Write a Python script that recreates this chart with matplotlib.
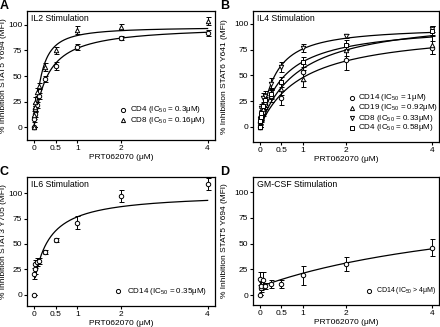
import numpy as np
import matplotlib
matplotlib.use("Agg")
import matplotlib.pyplot as plt

plt.rcParams['font.family'] = ['Liberation Sans', 'DejaVu Sans']
plt.rcParams['mathtext.fontset'] = 'custom'
plt.rcParams['mathtext.rm'] = 'Liberation Sans'
plt.rcParams['mathtext.it'] = 'Liberation Sans'

conc = [0, 0.008, 0.016, 0.031, 0.0625, 0.125, 0.25, 0.5, 1, 2, 4]
xticks = [0, 0.5, 1, 2, 4]
xtick_labels = ["0", "0.5", "1", "2", "4"]
yticks = [0, 25, 50, 75, 100]

# Panel A: IL2
a_cd4 = [0, 8, 13, 18, 22, 30, 47, 60, 78, 87, 92]
a_cd4_err = [0, 3, 3, 3, 3, 3, 3, 4, 3, 2, 3]
a_cd8 = [0, 12, 20, 25, 34, 40, 59, 75, 95, 98, 104]
a_cd8_err = [0, 4, 4, 4, 4, 3, 4, 3, 4, 3, 4]
a_fit = {"CD4": (0, 99, 0.30, 1.05), "CD8": (0, 98, 0.16, 1.3)}

# Panel B: IL4
b_cd14 = [0, 5, 8, 11, 15, 22, 30, 28, 53, 65, 77]
b_cd14_err = [0, 3, 3, 4, 4, 5, 6, 7, 8, 10, 6]
b_cd19 = [0, 6, 9, 12, 17, 24, 33, 37, 47, 75, 80]
b_cd19_err = [0, 3, 3, 4, 4, 5, 5, 6, 8, 6, 9]
b_cd8 = [0, 8, 12, 18, 28, 30, 42, 58, 77, 88, 95]
b_cd8_err = [0, 3, 3, 4, 5, 5, 6, 5, 4, 2, 3]
b_cd4 = [0, 6, 10, 14, 20, 26, 32, 44, 63, 80, 93]
b_cd4_err = [0, 3, 3, 4, 4, 5, 5, 5, 5, 4, 5]
b_fit = {"CD14": (0, 96, 1.0, 1.0), "CD19": (0, 109, 0.92, 1.0),
         "CD8": (0, 97, 0.33, 1.15), "CD4": (0, 100, 0.58, 1.0)}

# Panel C: IL6
c_cd14 = [0, 21, 25, 30, 32, 33, 42, 54, 71, 97, 109]
c_cd14_err = [0, 5, 4, 4, 4, 3, 2, 2, 6, 6, 6]
c_fit = (10, 100, 0.35, 1.0)

# Panel D: GM-CSF
d_cd14 = [0, 16, 7, 9, 15, 9, 11, 11, 19, 30, 46]
d_cd14_err = [0, 6, 4, 4, 7, 3, 4, 4, 9, 7, 8]
d_fit = (8, 100, 6.0, 1.0)


def hill(x, p):
    bottom, top, ic, h = p
    x = np.asarray(x, dtype=float)
    return bottom + (top - bottom) * x ** h / (ic ** h + x ** h)


W, H = 440, 327
fig = plt.figure(figsize=(4.4, 3.27), dpi=100)

positions = {
    "A": [27 / W, 1 - 140 / H, 188 / W, 129 / H],
    "B": [253 / W, 1 - 142 / H, 186 / W, 131 / H],
    "C": [27 / W, 1 - 306 / H, 188 / W, 129 / H],
    "D": [253 / W, 1 - 305 / H, 186 / W, 128 / H],
}
ylims = {"A": (-12.7, 113.7), "B": (-14.6, 112.6), "C": (-10.8, 115.7), "D": (-9.7, 114.6)}
titles = {"A": "IL2 Stimulation", "B": "IL4 Stimulation",
          "C": "IL6 Stimulation", "D": "GM-CSF Stimulation"}
ylabels = {"A": "% Inhibition STAT5 Y694 (MFI)", "B": "% Inhibition STAT6 Y641 (MFI)",
           "C": "% Inhibition STAT3 Y705 (MFI)", "D": "% Inhibition STAT5 Y694 (MFI)"}
ylabel_x = {"A": -0.108, "B": -0.134, "C": -0.108, "D": -0.134}
letter_pos = {"A": (0 / W, 1 - 0 / H), "B": (220 / W, 1 - 0 / H),
              "C": (0 / W, 1 - 166 / H), "D": (220 / W, 1 - 166 / H)}

fs = 6
xs = np.linspace(0, 4, 400)


def setup(ax, key):
    ax.set_xlim(-0.16, 4.17)
    ax.set_ylim(*ylims[key])
    ax.set_xticks(xticks)
    ax.set_xticklabels(xtick_labels)
    ax.set_yticks(yticks)
    ax.tick_params(labelsize=fs, length=2, width=0.8, pad=1.5)
    for s in ax.spines.values():
        s.set_linewidth(0.9)
    ax.set_xlabel("PRT062070 (μM)", fontsize=fs, labelpad=1.5)
    ax.set_ylabel(ylabels[key], fontsize=fs)
    ax.yaxis.set_label_coords(ylabel_x[key], 0.5)
    ax.text(0.02, 0.975, titles[key], transform=ax.transAxes, fontsize=6.3,
            va="top", ha="left")
    fig.text(letter_pos[key][0], letter_pos[key][1], key, fontsize=9,
             fontweight="bold", va="top", ha="left")


def series(ax, y, err, marker, ms=3.2):
    ax.errorbar(conc, y, yerr=err, fmt=marker, mfc="white", mec="black", mew=0.7,
                ms=ms, ecolor="black", elinewidth=0.7, capsize=1.8, capthick=0.7,
                zorder=3)


def legend(ax, entries, mx, tx, rows, size=5.8):
    for (marker, label), y in zip(entries, rows):
        ax.plot([mx], [y], marker=marker, mfc="white", mec="black", mew=0.7, ms=3.0,
                transform=ax.transAxes, clip_on=False, ls="none")
        ax.text(tx, y, label, transform=ax.transAxes, fontsize=size, va="center",
                ha="left")


# A
ax = fig.add_axes(positions["A"])
setup(ax, "A")
ax.plot(xs, hill(xs, a_fit["CD4"]), color="black", lw=0.9)
ax.plot(xs, hill(xs, a_fit["CD8"]), color="black", lw=0.9)
series(ax, a_cd4, a_cd4_err, "o")
series(ax, a_cd8, a_cd8_err, "^")
legend(ax, [("o", r"CD4 (IC$_{50}$ = 0.3μM)"), ("^", r"CD8 (IC$_{50}$ = 0.16μM)")],
       0.51, 0.548, [0.233, 0.155])

# B
ax = fig.add_axes(positions["B"])
setup(ax, "B")
for k in ["CD14", "CD19", "CD8", "CD4"]:
    ax.plot(xs, hill(xs, b_fit[k]), color="black", lw=0.9)
series(ax, b_cd14, b_cd14_err, "o")
series(ax, b_cd19, b_cd19_err, "^")
series(ax, b_cd8, b_cd8_err, "v")
series(ax, b_cd4, b_cd4_err, "s", ms=3.0)
legend(ax, [("o", r"CD14 (IC$_{50}$ = 1μM)"), ("^", r"CD19 (IC$_{50}$ = 0.92μM)"),
            ("v", r"CD8 (IC$_{50}$ = 0.33μM)"), ("s", r"CD4 (IC$_{50}$ = 0.58μM)")],
       0.532, 0.565, [0.336, 0.26, 0.183, 0.107])

# C
ax = fig.add_axes(positions["C"])
setup(ax, "C")
ax.plot(xs[3:], hill(xs[3:], c_fit), color="black", lw=0.9)
series(ax, c_cd14, c_cd14_err, "o")
legend(ax, [("o", r"CD14 (IC$_{50}$ = 0.35μM)")], 0.484, 0.53, [0.116])

# D
ax = fig.add_axes(positions["D"])
setup(ax, "D")
ax.plot(xs, hill(xs, d_fit), color="black", lw=0.9)
series(ax, d_cd14, d_cd14_err, "o")
legend(ax, [("o", r"CD14 (IC$_{50}$ > 4μM)")], 0.625, 0.66, [0.11], size=5.0)

fig.savefig("out.png", dpi=100)
